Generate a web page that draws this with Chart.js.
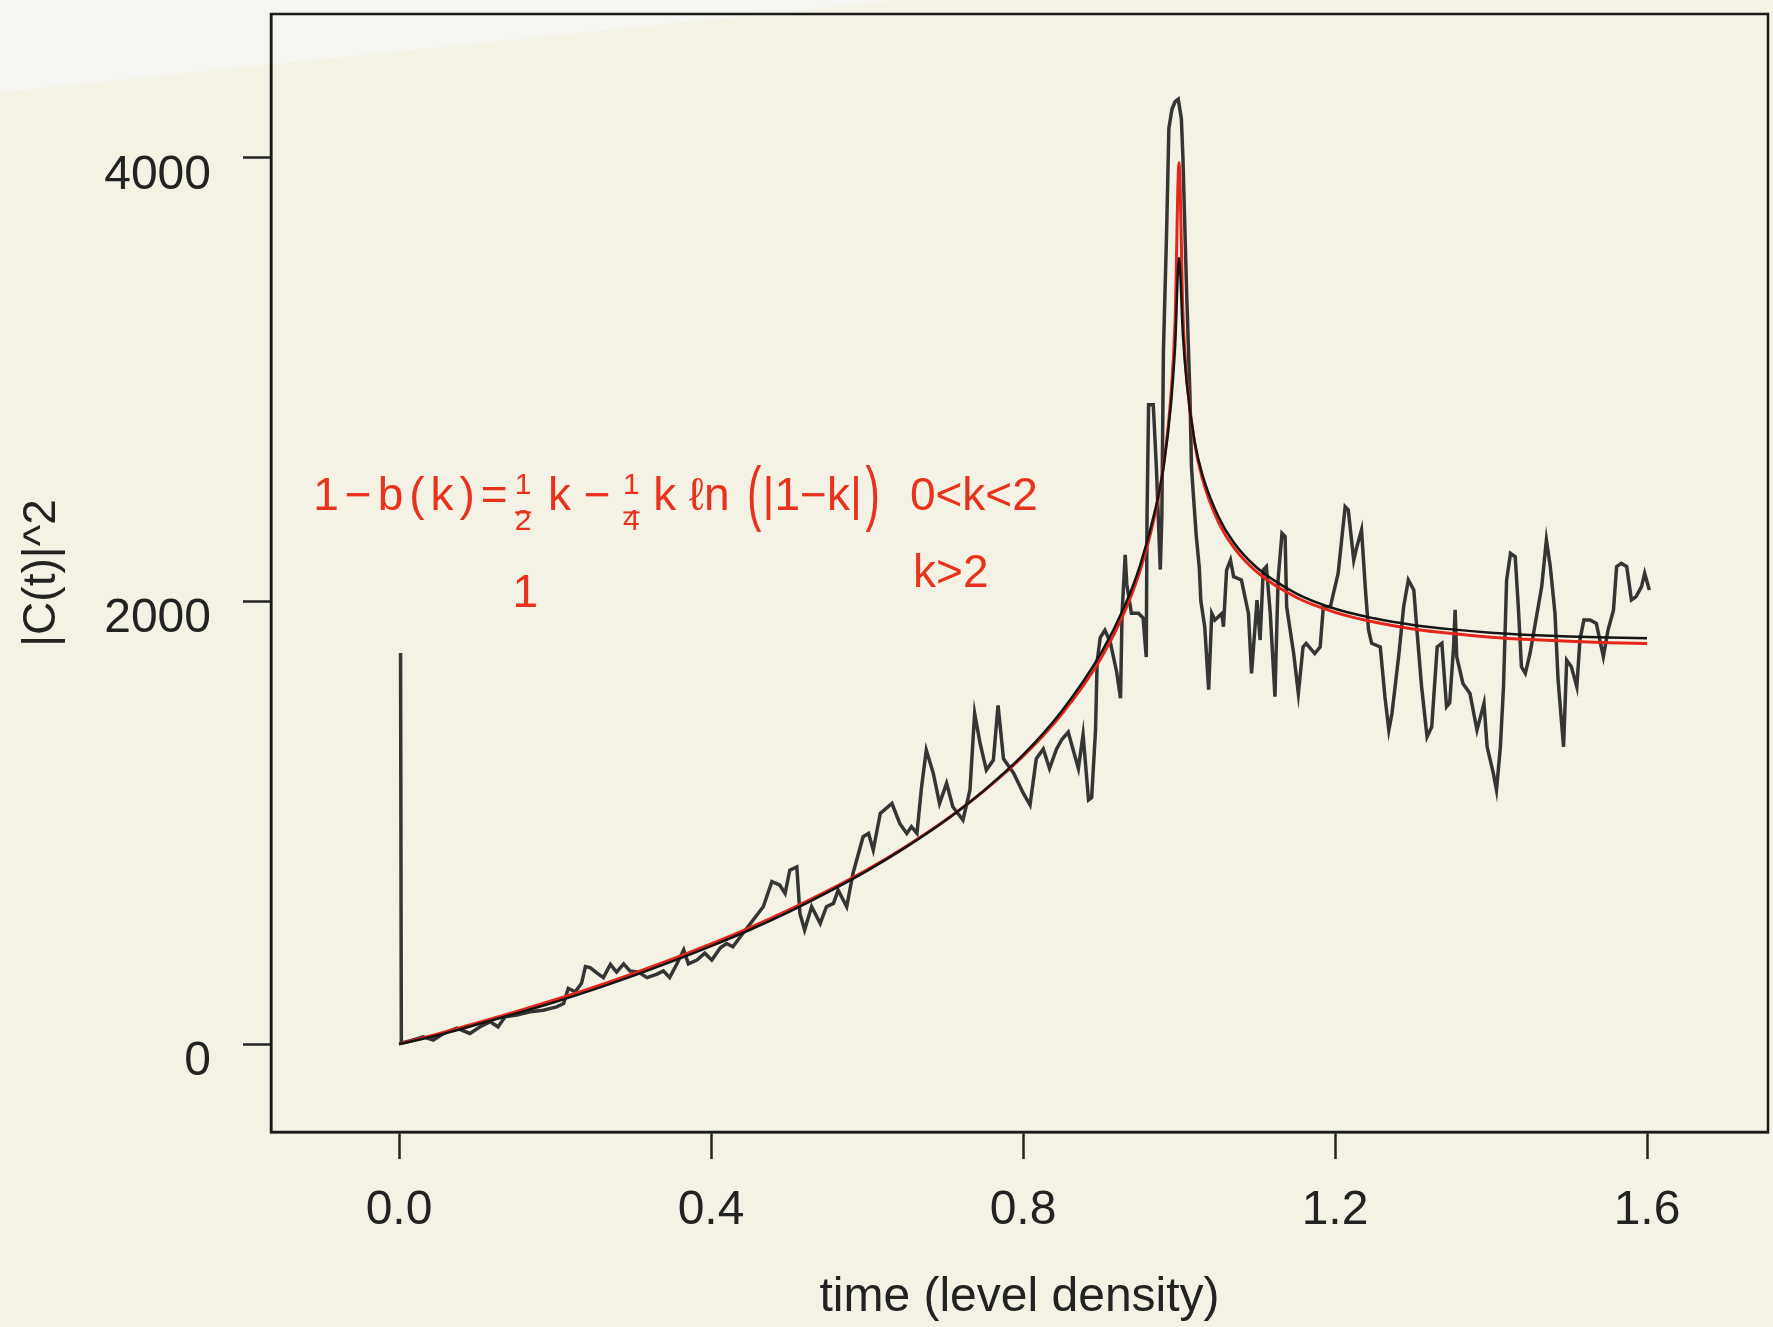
<!DOCTYPE html>
<html>
<head>
<meta charset="utf-8">
<script src="https://cdn.jsdelivr.net/npm/chart.js@4.4.1/dist/chart.umd.min.js"></script>
<style>
  html, body { margin: 0; padding: 0; background: #f3f2e5; }
  canvas { display: block; }
</style>
</head>
<body>
<canvas id="myChart" width="1773" height="1327"></canvas>
<script>
var noisyT = [0.002, 0.003, 0.015, 0.031, 0.044, 0.057, 0.074, 0.091, 0.104, 0.117, 0.127, 0.136, 0.151, 0.168, 0.185, 0.202, 0.211, 0.217, 0.226, 0.234, 0.239, 0.245, 0.254, 0.262, 0.271, 0.279, 0.288, 0.296, 0.307, 0.318, 0.330, 0.339, 0.347, 0.356, 0.365, 0.371, 0.382, 0.392, 0.401, 0.412, 0.420, 0.428, 0.441, 0.454, 0.467, 0.478, 0.488, 0.495, 0.501, 0.510, 0.514, 0.520, 0.529, 0.540, 0.548, 0.557, 0.563, 0.574, 0.582, 0.595, 0.602, 0.608, 0.617, 0.632, 0.642, 0.651, 0.657, 0.664, 0.670, 0.676, 0.685, 0.693, 0.702, 0.710, 0.723, 0.732, 0.738, 0.745, 0.753, 0.762, 0.768, 0.775, 0.788, 0.800, 0.809, 0.817, 0.826, 0.834, 0.843, 0.850, 0.858, 0.864, 0.871, 0.877, 0.884, 0.888, 0.893, 0.895, 0.899, 0.905, 0.912, 0.920, 0.925, 0.927, 0.931, 0.933, 0.939, 0.948, 0.954, 0.958, 0.959, 0.961, 0.967, 0.971, 0.976, 0.978, 0.980, 0.984, 0.987, 0.991, 0.995, 0.999, 1.003, 1.005, 1.010, 1.014, 1.016, 1.019, 1.022, 1.026, 1.028, 1.033, 1.038, 1.042, 1.046, 1.055, 1.057, 1.061, 1.066, 1.070, 1.080, 1.089, 1.093, 1.100, 1.104, 1.108, 1.112, 1.117, 1.123, 1.127, 1.132, 1.136, 1.138, 1.147, 1.153, 1.159, 1.163, 1.174, 1.181, 1.185, 1.194, 1.204, 1.213, 1.217, 1.224, 1.228, 1.234, 1.239, 1.243, 1.247, 1.258, 1.264, 1.269, 1.273, 1.282, 1.288, 1.294, 1.301, 1.305, 1.311, 1.318, 1.324, 1.331, 1.337, 1.343, 1.347, 1.352, 1.354, 1.356, 1.364, 1.373, 1.382, 1.391, 1.395, 1.403, 1.407, 1.412, 1.416, 1.420, 1.425, 1.431, 1.435, 1.439, 1.444, 1.450, 1.459, 1.465, 1.471, 1.476, 1.482, 1.486, 1.493, 1.497, 1.503, 1.510, 1.514, 1.519, 1.527, 1.535, 1.544, 1.550, 1.557, 1.561, 1.567, 1.574, 1.580, 1.586, 1.593, 1.597, 1.603];
var noisyV = [1765, 5, 15, 33, 18, 48, 72, 48, 78, 101, 78, 123, 131, 146, 153, 168, 183, 251, 236, 274, 350, 345, 320, 300, 360, 325, 362, 330, 325, 300, 315, 330, 300, 360, 425, 362, 379, 410, 379, 435, 454, 439, 500, 560, 620, 733, 718, 680, 785, 800, 590, 515, 620, 545, 620, 635, 695, 620, 770, 936, 951, 876, 1041, 1086, 996, 951, 981, 951, 1162, 1327, 1222, 1086, 1177, 1071, 1011, 1147, 1493, 1357, 1237, 1282, 1529, 1288, 1223, 1135, 1080, 1288, 1332, 1244, 1332, 1376, 1408, 1332, 1244, 1397, 1102, 1113, 1419, 1725, 1835, 1868, 1813, 1681, 1561, 1945, 2208, 2076, 1945, 1945, 1923, 1747, 2383, 2886, 2886, 2602, 2142, 2383, 3127, 3652, 4133, 4221, 4254, 4265, 4177, 4002, 3368, 2930, 2602, 2450, 2300, 2150, 2000, 1883, 1600, 1944, 1914, 1944, 1884, 2140, 2185, 2110, 2095, 1944, 1673, 2004, 1824, 2140, 2155, 1944, 1568, 2095, 2306, 2291, 1974, 1763, 1583, 1793, 1809, 1763, 1793, 1974, 1974, 2125, 2426, 2411, 2185, 2245, 2321, 2050, 1869, 1809, 1793, 1568, 1417, 1492, 1763, 1974, 2095, 2050, 1869, 1613, 1387, 1432, 1793, 1809, 1523, 1540, 1793, 1960, 1749, 1628, 1583, 1417, 1538, 1342, 1222, 1147, 1342, 1613, 2095, 2215, 2200, 1974, 1703, 1673, 1763, 1944, 2065, 2276, 2155, 1944, 1643, 1342, 1733, 1703, 1613, 1824, 1914, 1914, 1899, 1749, 1869, 1959, 2155, 2170, 2155, 2005, 2020, 2065, 2125, 2050];

// smooth curves: red = theory 1-b(k), black = fitted curve
var fitT = [0, 0.05, 0.1, 0.15, 0.2, 0.25, 0.3, 0.35, 0.4, 0.45, 0.5, 0.55, 0.6, 0.65, 0.7, 0.75, 0.8, 0.85, 0.9, 0.93, 0.95, 0.97, 0.98, 0.99, 0.995, 1.0, 1.005, 1.01, 1.02, 1.03, 1.05, 1.07, 1.1, 1.15, 1.2, 1.25, 1.3, 1.35, 1.4, 1.45, 1.5, 1.55, 1.6];
var redV = [0, 46, 95, 146, 200, 257, 318, 383, 452, 526, 606, 693, 787, 892, 1009, 1143, 1299, 1491, 1742, 1950, 2136, 2404, 2607, 2943, 3268, 3980, 3301, 3002, 2714, 2552, 2361, 2243, 2130, 2017, 1949, 1905, 1874, 1853, 1837, 1826, 1818, 1812, 1808];
var blackV = [0, 40, 88, 138, 190, 247, 308, 373, 442, 516, 597, 686, 782, 889, 1008, 1145, 1305, 1505, 1765, 1975, 2160, 2420, 2600, 2900, 3150, 3550, 3200, 2980, 2720, 2570, 2385, 2265, 2150, 2035, 1965, 1922, 1892, 1872, 1857, 1847, 1840, 1835, 1832];

var xTicks = [0, 0.4, 0.8, 1.2, 1.6];
var yTicks = [0, 2000, 4000];

// handwritten red note, placed in data units
var notes = [
  {t: -0.110, v: 2411, text: '1\u2212b(k)=', size: 46, gap: 6},
  {t: 0.159, v: 2485, text: '1', size: 30, center: true},
  {t: 0.159, v: 2320, text: '2', size: 30, center: true},
  {t: 0.191, v: 2411, text: 'k \u2212', size: 46},
  {t: 0.298, v: 2485, text: '1', size: 30, center: true},
  {t: 0.298, v: 2320, text: '4', size: 30, center: true},
  {t: 0.326, v: 2411, text: 'k \u2113n', size: 46},
  {t: 0.446, v: 2380, text: '(', size: 72, sx: 0.6},
  {t: 0.466, v: 2411, text: '|1\u2212k|', size: 46},
  {t: 0.598, v: 2380, text: ')', size: 72, sx: 0.6},
  {t: 0.655, v: 2411, text: '0<k<2', size: 46},
  {t: 0.162, v: 1973, text: '1', size: 46, center: true},
  {t: 0.659, v: 2063, text: 'k>2', size: 46}
];

function pts(xs, ys) {
  return xs.map(function (x, i) { return {x: x, y: ys[i]}; });
}

var paperPlugin = {
  id: 'paper',
  beforeDraw: function (chart) {
    var c = chart.ctx;
    c.save();
    c.fillStyle = '#f3f2e5';
    c.fillRect(0, 0, chart.width, chart.height);
    c.fillStyle = '#f5f6f2';
    c.beginPath();
    c.moveTo(0, 0); c.lineTo(900, 0); c.lineTo(0, 92);
    c.closePath();
    c.fill();
    c.restore();
  },
  afterDraw: function (chart) {
    var a = chart.chartArea, c = chart.ctx;
    c.save();
    c.strokeStyle = '#1a1a1a';
    c.lineWidth = 2.5;
    c.strokeRect(a.left, a.top, a.right - a.left, a.bottom - a.top);
    // note
    var xs = chart.scales.x, ys = chart.scales.y;
    c.fillStyle = '#e8321c';
    c.textBaseline = 'alphabetic';
    notes.forEach(function (n) {
      c.save();
      c.font = n.size + 'px "Liberation Sans", Arial, sans-serif';
      c.letterSpacing = (n.gap || 0) + 'px';
      c.textAlign = n.center ? 'center' : 'left';
      c.translate(xs.getPixelForValue(n.t), ys.getPixelForValue(n.v));
      c.scale(n.sx || 1, 1);
      c.fillText(n.text, 0, 0);
      c.restore();
    });
    // little fraction bars
    c.strokeStyle = '#e8321c';
    c.lineWidth = 2;
    [0.159, 0.298].forEach(function (t) {
      var px = xs.getPixelForValue(t), py = ys.getPixelForValue(2400);
      c.beginPath(); c.moveTo(px - 8, py); c.lineTo(px + 8, py); c.stroke();
    });
    c.restore();
  }
};

var axisFont = {family: '"Liberation Sans", Arial, sans-serif', size: 48};

var ctx = document.getElementById('myChart').getContext('2d');
var myChart = new Chart(ctx, {
  type: 'scatter',
  data: {
    datasets: [{
      label: 'data',
      data: pts(noisyT, noisyV),
      showLine: true,
      borderColor: '#353535',
      borderWidth: 3.5,
      pointRadius: 0,
      tension: 0,
      order: 3
    }, {
      label: '1-b(k)',
      data: pts(fitT, redV),
      showLine: true,
      borderColor: '#e5261b',
      borderWidth: 3,
      pointRadius: 0,
      cubicInterpolationMode: 'monotone',
      order: 2
    }, {
      label: 'fit',
      data: pts(fitT, blackV),
      showLine: true,
      borderColor: '#151515',
      borderWidth: 2.5,
      pointRadius: 0,
      cubicInterpolationMode: 'monotone',
      order: 1
    }]
  },
  options: {
    responsive: false,
    animation: false,
    layout: {padding: {top: 14, right: 5, left: 0, bottom: 0}},
    plugins: {legend: {display: false}, tooltip: {enabled: false}},
    scales: {
      x: {
        type: 'linear',
        min: -0.1641,
        max: 1.7551,
        afterBuildTicks: function (s) { s.ticks = xTicks.map(function (v) { return {value: v}; }); },
        afterFit: function (s) { s.height = 195; s.paddingLeft = 0; s.paddingRight = 0; },
        ticks: {
          autoSkip: false, maxRotation: 0, padding: 23, color: '#222', font: axisFont,
          callback: function (v) { return v.toFixed(1); }
        },
        grid: {drawOnChartArea: false, drawTicks: true, tickLength: 27, tickColor: '#222', tickWidth: 2.5},
        border: {display: true, color: '#1a1a1a', width: 2.5},
        title: {display: true, text: 'time (level density)', color: '#222', font: axisFont, padding: {top: 0, bottom: 0}}
      },
      y: {
        type: 'linear',
        min: -397,
        max: 4650,
        afterBuildTicks: function (s) { s.ticks = yTicks.map(function (v) { return {value: v}; }); },
        afterFit: function (s) { s.width = 271; s.paddingTop = 0; s.paddingBottom = 0; },
        ticks: {
          autoSkip: false, padding: 32, labelOffset: 18, color: '#222', font: axisFont,
          callback: function (v) { return String(v); }
        },
        grid: {drawOnChartArea: false, drawTicks: true, tickLength: 28, tickColor: '#222', tickWidth: 2.5},
        border: {display: true, color: '#1a1a1a', width: 2.5},
        title: {display: true, text: '|C(t)|^2', color: '#222', font: {family: axisFont.family, size: 46}, padding: {top: 15, bottom: 0}}
      }
    }
  },
  plugins: [paperPlugin]
});
</script>
</body>
</html>
